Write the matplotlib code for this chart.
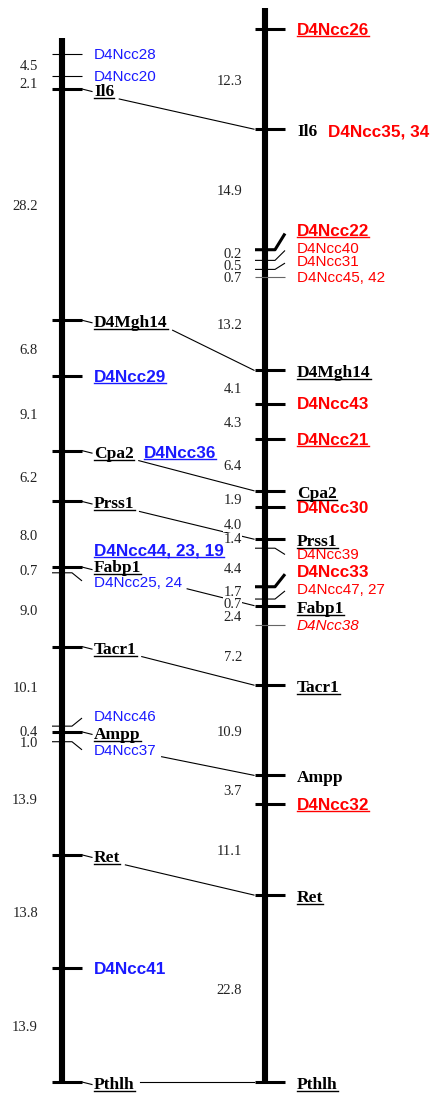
import matplotlib.pyplot as plt

PX_PER_CM = 8.2
TOP_PX = 89  # pixel row of the Il6 tick on the left map

# left map (positions in cM, Il6 = 0)
left_markers = ['D4Ncc28', 'D4Ncc20', 'Il6', 'D4Mgh14', 'D4Ncc29', 'Cpa2', 'Prss1', 'Fabp1',
                'D4Ncc25, 24', 'Tacr1', 'D4Ncc46', 'Ampp', 'D4Ncc37', 'Ret', 'D4Ncc41', 'Pthlh']
left_pos = [-4.3, -1.6, 0.0, 28.2, 35.0, 44.1, 50.3, 58.3, 59.0, 68.0, 77.7, 78.4, 79.6,
            93.4, 107.2, 121.1]
left_style = ['reg', 'reg', 'gene', 'gene', 'bold_u', 'gene', 'gene', 'gene', 'reg', 'gene',
              'reg', 'gene', 'reg', 'gene', 'bold', 'gene']
left_thin = ['D4Ncc28', 'D4Ncc20', 'D4Ncc25, 24', 'D4Ncc46', 'D4Ncc37']
left_gaps = ['4.5', '2.1', '28.2', '6.8', '9.1', '6.2', '8.0', '0.7', '9.0', '10.1', '0.4',
             '1.0', '13.9', '13.8', '13.9']
left_extra = [('D4Ncc36', 'Cpa2', 'bold_u'), ('D4Ncc44, 23, 19', 'Fabp1', 'bold_u')]

# right map
right_markers = ['D4Ncc26', 'Il6', 'D4Ncc22', 'D4Ncc40', 'D4Ncc31', 'D4Ncc45, 42', 'D4Mgh14',
                 'D4Ncc43', 'D4Ncc21', 'Cpa2', 'D4Ncc30', 'Prss1', 'D4Ncc39', 'D4Ncc33',
                 'D4Ncc47, 27', 'Fabp1', 'D4Ncc38', 'Tacr1', 'Ampp', 'D4Ncc32', 'Ret', 'Pthlh']
right_pos = [-7.3, 4.9, 19.6, 20.9, 22.0, 22.9, 34.3, 38.4, 42.7, 49.0, 51.0, 54.9, 56.0,
             60.7, 62.2, 63.0, 65.4, 72.7, 83.7, 87.2, 98.3, 121.1]
right_style = ['bold_u', 'gene_plain', 'bold_u', 'reg', 'reg', 'reg', 'gene', 'bold', 'bold_u',
               'gene', 'bold', 'gene', 'reg', 'bold', 'reg', 'gene', 'ital', 'gene',
               'gene_plain', 'bold_u', 'gene', 'gene']
right_thin = ['D4Ncc40', 'D4Ncc31', 'D4Ncc45, 42', 'D4Ncc39', 'D4Ncc47, 27', 'D4Ncc38']
right_gaps = ['12.3', '14.9', '0.2', '0.5', '0.7', '13.2', '4.1', '4.3', '6.4', '1.9', '4.0',
              '1.4', '4.4', '1.7', '0.7', '2.4', '7.2', '10.9', '3.7', '11.1', '22.8']
right_extra = [('D4Ncc35, 34', 'Il6', 'bold')]

links = [('Il6', 'Il6'), ('D4Mgh14', 'D4Mgh14'), ('Cpa2', 'Cpa2'), ('Prss1', 'Prss1'),
         ('D4Ncc25, 24', 'Fabp1'), ('Tacr1', 'Tacr1'), ('D4Ncc37', 'Ampp'), ('Ret', 'Ret'),
         ('Pthlh', 'Pthlh')]

BLUE = '#1a1aff'
RED = '#ff0000'

STYLES = {
    'gene': dict(family='Liberation Serif', weight='bold', size=12.5, style='normal'),
    'gene_plain': dict(family='Liberation Serif', weight='bold', size=12.5, style='normal'),
    'bold_u': dict(family='Liberation Sans', weight='bold', size=12.3, style='normal'),
    'bold': dict(family='Liberation Sans', weight='bold', size=12.3, style='normal'),
    'reg': dict(family='Liberation Sans', weight='normal', size=11, style='normal'),
    'ital': dict(family='Liberation Sans', weight='normal', size=11, style='italic'),
}


def px(d):
    return d / PX_PER_CM


fig = plt.figure(figsize=(4.3, 10.95), dpi=100)
ax = fig.add_axes([0, 0, 1, 1])
ax.set_xlim(0, 430)
ax.set_ylim((1095 - TOP_PX) / PX_PER_CM, -TOP_PX / PX_PER_CM)
ax.axis('off')

underlined = []


def draw_map(x, top, markers, pos, styles, thin, gaps, color, bends, nudge, gap_nudge,
             gap_x, leader):
    ax.plot([x, x], [top, pos[-1] + px(1)], color='k', lw=4.4, solid_capstyle='butt', zorder=3)
    arts = {}
    for name, p, st in zip(markers, pos, styles):
        sh = bends.get(name, 3 if st.startswith('gene') else 1) + nudge.get(name, 0)
        ly = p + px(sh)
        lw = 0.8 if name in thin else 2.2
        tcol = '#666666' if name in ('D4Ncc45, 42', 'D4Ncc38') else 'k'
        if name in bends:
            ax.plot([x - 10, x + 10, x + 20], [p, p, p + px(bends[name] * 0.9)], color=tcol,
                    lw=lw, solid_capstyle='butt', zorder=4)
        else:
            ax.plot([x - 10, x + 20], [p, p], color=tcol, lw=lw, solid_capstyle='butt', zorder=4)
        if leader and st == 'gene':
            ax.plot([x + 20, x + 30], [p, p + px(2.5)], color='k', lw=0.8)
        s = STYLES[st]
        c = 'k' if st.startswith('gene') else color
        t = ax.text(x + 32, ly, name, color=c, fontfamily=s['family'], fontweight=s['weight'],
                    fontsize=s['size'], fontstyle=s['style'], ha='left', va='center')
        if st in ('gene', 'bold_u'):
            underlined.append(t)
        arts[name] = (t, p)
    for i, g in enumerate(gaps):
        gy = (pos[i] + pos[i + 1]) / 2 + px(2 + gap_nudge.get(i, 0))
        ax.text(gap_x, gy, g, fontfamily='Liberation Serif', fontsize=10.5, ha='right',
                va='center', color='#222222', zorder=5,
                bbox=dict(facecolor='white', edgecolor='none', pad=0.3))
    return arts


left = draw_map(62, -6.2, left_markers, left_pos, left_style, left_thin, left_gaps, BLUE,
                {'D4Ncc25, 24': 9, 'D4Ncc46': -9, 'D4Ncc37': 9}, {'Fabp1': -2, 'D4Ncc25, 24': 1},
                {10: 1, 11: 5}, 38, True)
right = draw_map(265, -9.9, right_markers, right_pos, right_style, right_thin, right_gaps, RED,
                 {'D4Ncc22': -18, 'D4Ncc40': -11, 'D4Ncc31': -7, 'D4Ncc39': 7, 'D4Ncc33': -14,
                  'D4Ncc47, 27': -9}, {},
                 {2: -3, 4: 3, 11: -6, 13: -2}, 242, False)

fig.canvas.draw()
r = fig.canvas.get_renderer()
inv = ax.transData.inverted()

# co-located extra labels, placed next to / above the marker label
extra_place = {'D4Ncc36': (10, 0), 'D4Ncc44, 23, 19': (None, -16), 'D4Ncc35, 34': (11, 0)}
for arts, extra, color in [(left, left_extra, BLUE), (right, right_extra, RED)]:
    for name, host, st in extra:
        t, p = arts[host]
        bb = t.get_window_extent(r)
        dx, dy = extra_place[name]
        x0 = inv.transform((bb.x1 + dx, 0))[0] if dx is not None else t.get_position()[0]
        y0 = t.get_position()[1] if dx is not None else p + px(dy)
        s = STYLES[st]
        e = ax.text(x0, y0, name, color=color, fontfamily=s['family'], fontweight=s['weight'],
                    fontsize=s['size'], ha='left', va='center')
        if st == 'bold_u':
            underlined.append(e)

fig.canvas.draw()
for t in underlined:
    bb = t.get_window_extent(r)
    (x0, y0), (x1, _) = inv.transform([(bb.x0, bb.y0 + 2), (bb.x1, bb.y0 + 2)])
    ax.plot([x0, x1], [y0, y0], color=t.get_color(), lw=1.0)

for lname, rname in links:
    t, p = left[lname]
    _, rp = right[rname]
    bb = t.get_window_extent(r)
    (sx, sy), = inv.transform([(bb.x1 + 5, bb.y0 + 1)])
    if lname == 'Pthlh':
        sy = p
    ax.plot([sx, 254], [sy, rp], color='k', lw=0.8, zorder=1)

fig.savefig('out.png', dpi=100)
